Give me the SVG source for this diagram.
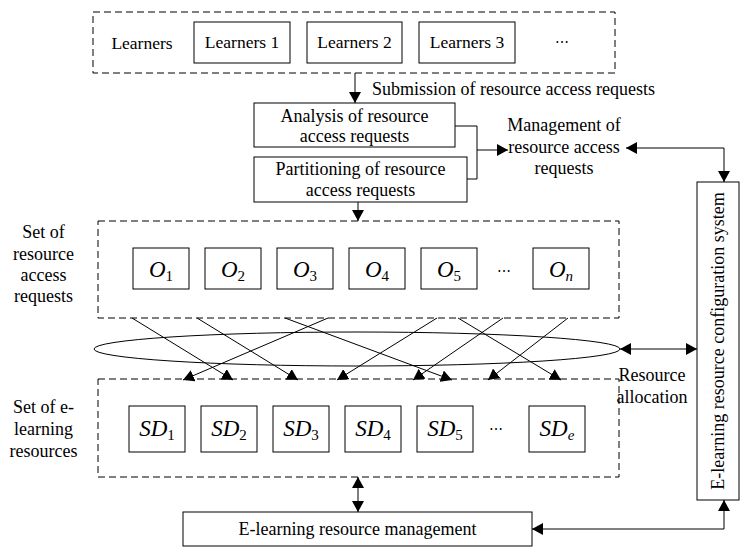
<svg xmlns="http://www.w3.org/2000/svg" width="741" height="547" viewBox="0 0 741 547">
<defs>
<marker id="ah" markerUnits="userSpaceOnUse" markerWidth="11" markerHeight="12" refX="11" refY="6" orient="auto-start-reverse" viewBox="0 0 11 12">
<path d="M0,0 L11,6 L0,12 z" fill="#000"/>
</marker>
<style>
.box{fill:#fff;stroke:#000;stroke-width:1}
.dash{fill:none;stroke:#000;stroke-width:1;stroke-dasharray:7 4}
.ln{fill:none;stroke:#000;stroke-width:1}
.t{font-family:"Liberation Serif","Times New Roman",serif;font-size:18px;fill:#000;text-anchor:middle}
.m{font-family:"Liberation Serif","Times New Roman",serif;font-size:23px;font-style:italic;fill:#000;text-anchor:middle}
.sub{font-size:15px;font-style:normal}
.subi{font-size:15px;font-style:italic}
.dots{font-family:"DejaVu Serif","Liberation Serif",serif;font-size:14px;fill:#000;text-anchor:middle}
</style>
</defs>

<g id="learners">
<rect class="dash" x="93" y="12" width="522" height="61"/>
<text class="t" x="142" y="49" style="font-size:17.5px">Learners</text>
<g id="learner1"><rect class="box" x="194" y="22" width="96" height="41"/><text class="t" x="242" y="48" style="font-size:17.5px">Learners 1</text></g>
<g id="learner2"><rect class="box" x="307" y="22" width="95" height="41"/><text class="t" x="354.5" y="48" style="font-size:17.5px">Learners 2</text></g>
<g id="learner3"><rect class="box" x="419" y="22" width="96" height="41"/><text class="t" x="467" y="48" style="font-size:17.5px">Learners 3</text></g>
<text class="dots" x="562" y="47">⋯</text>
</g>

<text class="t" x="513.5" y="95">Submission of resource access requests</text>

<g id="analysis"><rect class="box" x="254" y="103" width="201" height="44"/><text class="t" x="354.5" y="122">Analysis of resource</text><text class="t" x="354.5" y="142">access requests</text></g>
<g id="partitioning"><rect class="box" x="254" y="157" width="213" height="45"/><text class="t" x="360.5" y="175">Partitioning of resource</text><text class="t" x="360.5" y="196">access requests</text></g>

<g id="management">
<text class="t" x="564" y="131">Management of</text>
<text class="t" x="564" y="153">resource access</text>
<text class="t" x="564" y="174">requests</text>
</g>

<g id="requests-set">
<rect class="dash" x="98" y="221" width="521" height="97"/>
<text class="t" x="43.5" y="238">Set of</text>
<text class="t" x="43.5" y="260">resource</text>
<text class="t" x="43.5" y="281">access</text>
<text class="t" x="43.5" y="302">requests</text>
<g id="o1"><rect class="box" x="133" y="248" width="56" height="41"/><text class="m" x="161" y="277">O<tspan class="sub" dy="4">1</tspan></text></g>
<g id="o2"><rect class="box" x="205" y="248" width="56" height="41"/><text class="m" x="233" y="277">O<tspan class="sub" dy="4">2</tspan></text></g>
<g id="o3"><rect class="box" x="277" y="248" width="56" height="41"/><text class="m" x="305" y="277">O<tspan class="sub" dy="4">3</tspan></text></g>
<g id="o4"><rect class="box" x="349" y="248" width="56" height="41"/><text class="m" x="377" y="277">O<tspan class="sub" dy="4">4</tspan></text></g>
<g id="o5"><rect class="box" x="421" y="248" width="56" height="41"/><text class="m" x="449" y="277">O<tspan class="sub" dy="4">5</tspan></text></g>
<text class="dots" x="504" y="276">⋯</text>
<g id="on"><rect class="box" x="533" y="248" width="56" height="41"/><text class="m" x="561" y="277">O<tspan class="subi" dy="4">n</tspan></text></g>
</g>

<g id="resources-set">
<rect class="dash" x="98" y="379" width="521" height="98"/>
<text class="t" x="43.5" y="413">Set of e-</text>
<text class="t" x="43.5" y="435">learning</text>
<text class="t" x="43.5" y="457">resources</text>
<g id="sd1"><rect class="box" x="129" y="406" width="56" height="46"/><text class="m" x="157" y="436">SD<tspan class="sub" dy="4">1</tspan></text></g>
<g id="sd2"><rect class="box" x="201" y="406" width="56" height="46"/><text class="m" x="229" y="436">SD<tspan class="sub" dy="4">2</tspan></text></g>
<g id="sd3"><rect class="box" x="273" y="406" width="56" height="46"/><text class="m" x="301" y="436">SD<tspan class="sub" dy="4">3</tspan></text></g>
<g id="sd4"><rect class="box" x="345" y="406" width="56" height="46"/><text class="m" x="373" y="436">SD<tspan class="sub" dy="4">4</tspan></text></g>
<g id="sd5"><rect class="box" x="417" y="406" width="56" height="46"/><text class="m" x="445" y="436">SD<tspan class="sub" dy="4">5</tspan></text></g>
<text class="dots" x="496" y="434">⋯</text>
<g id="sde"><rect class="box" x="529" y="406" width="56" height="46"/><text class="m" x="557" y="436">SD<tspan class="subi" dy="4">e</tspan></text></g>
</g>

<g id="allocation">
<ellipse class="ln" cx="357" cy="349" rx="263" ry="17"/>
<text class="t" x="652" y="381">Resource</text>
<text class="t" x="652" y="403">allocation</text>
</g>

<g id="config">
<rect class="box" x="697" y="182" width="42" height="318"/>
<text class="t" transform="translate(724,341) rotate(-90)">E-learning resource configuration system</text>
</g>

<g id="res-management">
<rect class="box" x="183" y="512" width="349" height="34"/>
<text class="t" x="357.5" y="535">E-learning resource management</text>
</g>

<g id="connectors">
<line class="ln" x1="355" y1="73" x2="355" y2="103" marker-end="url(#ah)"/>
<path class="ln" d="M455,126 H477 V179 H467"/>
<line class="ln" x1="477" y1="150" x2="508" y2="150" marker-end="url(#ah)"/>
<path class="ln" d="M626,148 H724 V182" marker-start="url(#ah)" marker-end="url(#ah)"/>
<line class="ln" x1="358" y1="202" x2="358" y2="221" marker-end="url(#ah)"/>
<line class="ln" x1="132" y1="318" x2="233" y2="380" marker-end="url(#ah)"/>
<line class="ln" x1="197" y1="318" x2="298" y2="380" marker-end="url(#ah)"/>
<line class="ln" x1="285" y1="318" x2="452" y2="380" marker-end="url(#ah)"/>
<line class="ln" x1="328" y1="318" x2="183" y2="380" marker-end="url(#ah)"/>
<line class="ln" x1="437" y1="318" x2="337" y2="380" marker-end="url(#ah)"/>
<line class="ln" x1="458" y1="318" x2="561" y2="380" marker-end="url(#ah)"/>
<line class="ln" x1="503" y1="318" x2="413" y2="380" marker-end="url(#ah)"/>
<line class="ln" x1="568" y1="318" x2="488" y2="380" marker-end="url(#ah)"/>
<line class="ln" x1="620" y1="349" x2="697" y2="349" marker-start="url(#ah)" marker-end="url(#ah)"/>
<line class="ln" x1="358" y1="477" x2="358" y2="512" marker-start="url(#ah)" marker-end="url(#ah)"/>
<path class="ln" d="M532,529 H724 V500" marker-start="url(#ah)" marker-end="url(#ah)"/>
</g>
</svg>
